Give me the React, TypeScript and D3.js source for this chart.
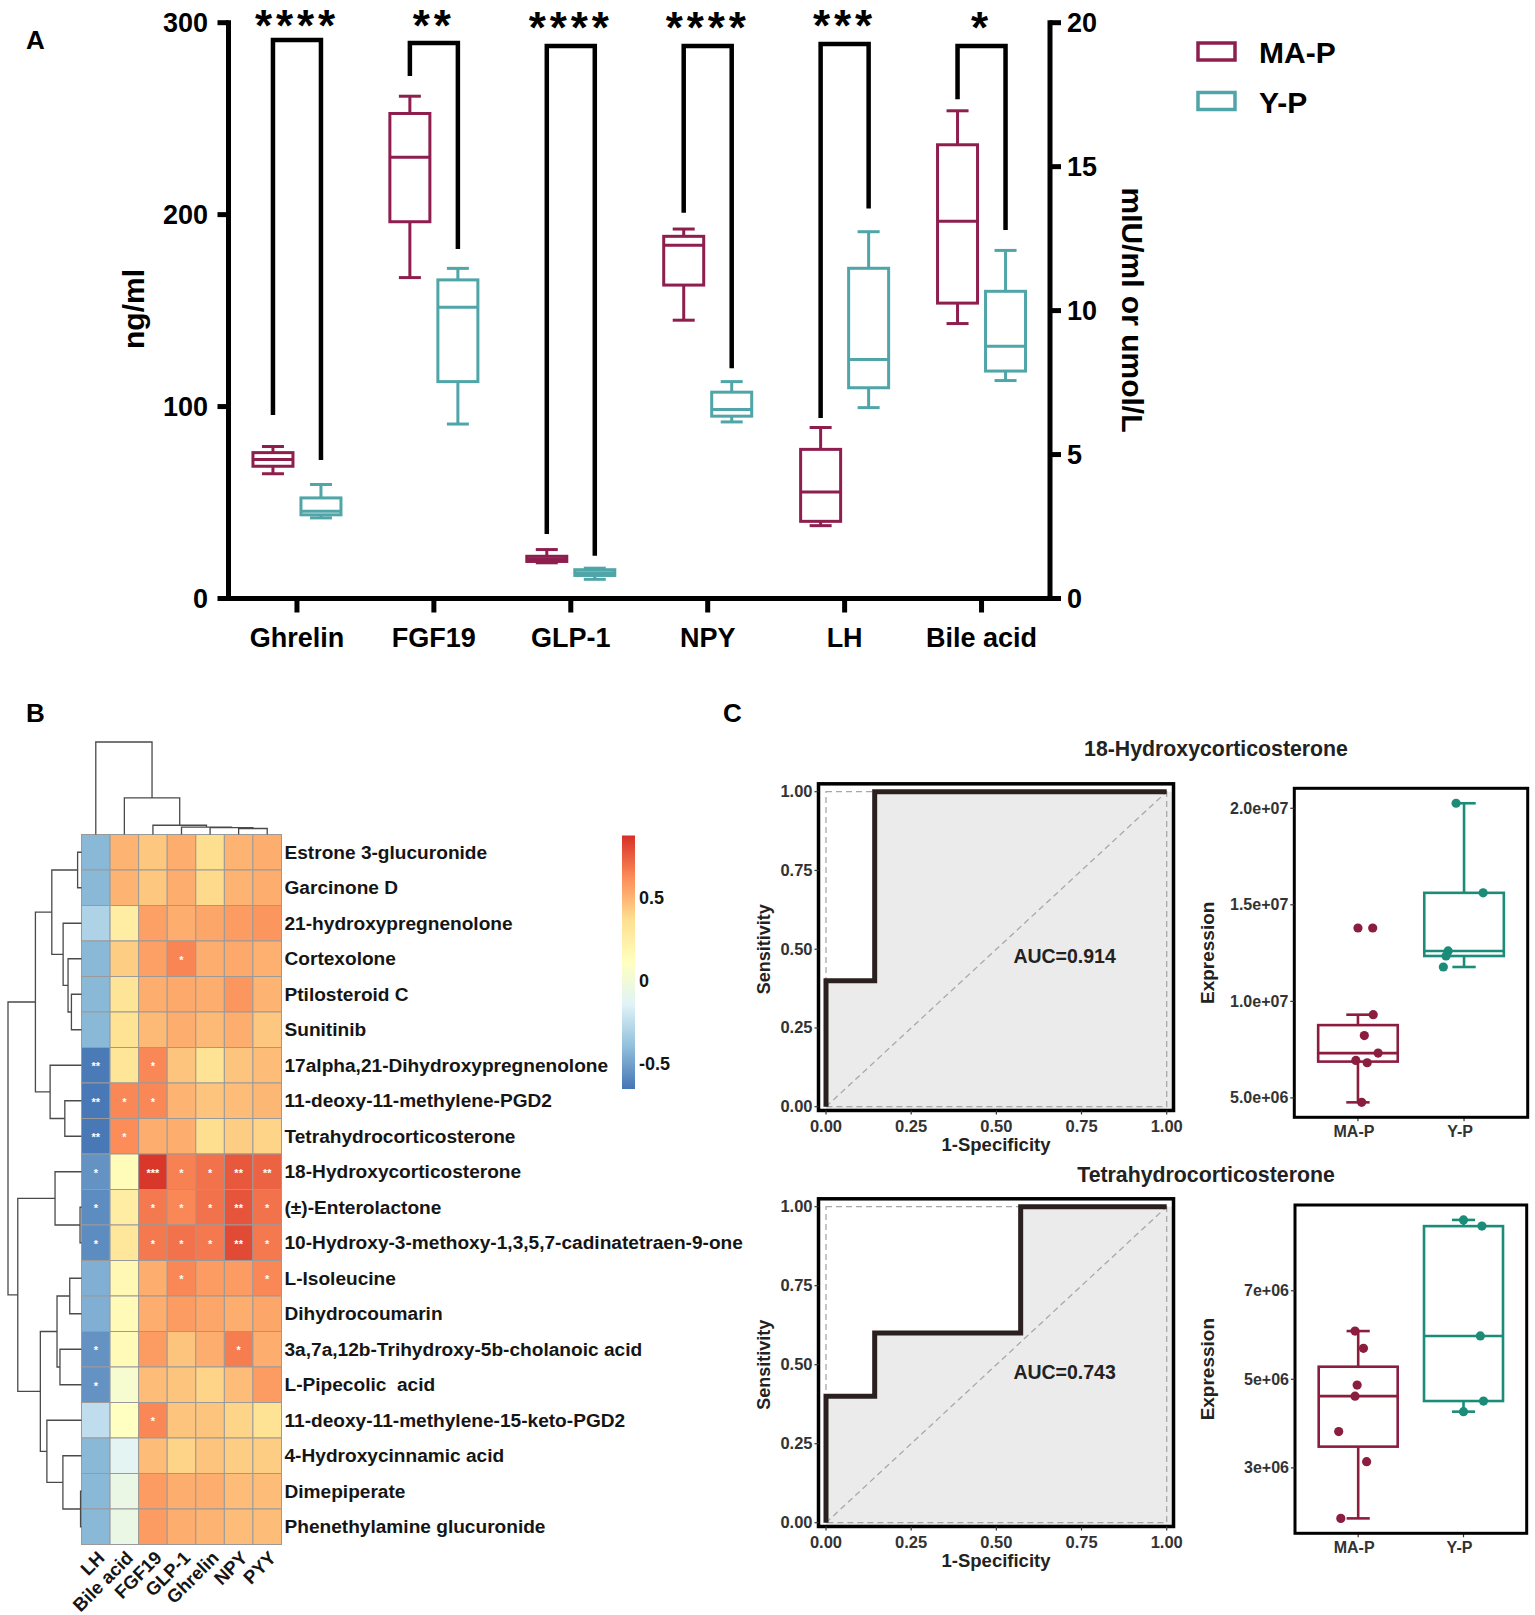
import React from "react";
import * as d3 from "d3";

const FONT = "'Liberation Sans', Arial, Helvetica, sans-serif";

// ---------------- Panel A data ----------------
const groupsA = ["Ghrelin", "FGF19", "GLP-1", "NPY", "LH", "Bile acid"];
const seriesA = ["MA-P", "Y-P"];
const groupAxisA = ["left", "left", "left", "left", "right", "right"];
// [whisker low, Q1, median, Q3, whisker high]
const statsMAP = [
  [65, 68.9, 72.4, 76, 79.2],
  [167.2, 196.3, 229.9, 252.7, 261.7],
  [18.6, 19.3, 20.7, 22, 25.5],
  [145, 163.3, 184, 188.7, 192.5],
  [2.53, 2.68, 3.7, 5.18, 5.94],
  [9.55, 10.26, 13.1, 15.76, 16.94],
];
const statsYP = [
  [42, 43.6, 45.5, 52.4, 59.4],
  [90.9, 113, 151.7, 166, 172],
  [10, 12, 13.4, 15, 15.8],
  [92, 95, 98.5, 107.5, 113],
  [6.63, 7.32, 8.3, 11.47, 12.74],
  [7.57, 7.9, 8.76, 10.67, 12.09],
];
const sigA = ["****", "**", "****", "****", "***", "*"];
const bracketTopA = [291, 289.4, 287.9, 287.9, 288.9, 287.9]; // left-axis units
const legEndMAP = [95.6, 272.2, 33.6, 201, 6.27, 17.34];
const legEndYP = [72.2, 182.1, 22.3, 120, 13.55, 12.8];
const leftTicksA = [0, 100, 200, 300];
const rightTicksA = [0, 5, 10, 15, 20];
const colorA: Record<string, string> = { "MA-P": "#8E1E4E", "Y-P": "#4FA5A7" };

// ---------------- Panel B data ----------------
const heatCols = ["LH", "Bile acid", "FGF19", "GLP-1", "Ghrelin", "NPY", "PYY"];
const heatRows = [
  "Estrone 3-glucuronide",
  "Garcinone D",
  "21-hydroxypregnenolone",
  "Cortexolone",
  "Ptilosteroid C",
  "Sunitinib",
  "17alpha,21-Dihydroxypregnenolone",
  "11-deoxy-11-methylene-PGD2",
  "Tetrahydrocorticosterone",
  "18-Hydroxycorticosterone",
  "(±)-Enterolactone",
  "10-Hydroxy-3-methoxy-1,3,5,7-cadinatetraen-9-one",
  "L-Isoleucine",
  "Dihydrocoumarin",
  "3a,7a,12b-Trihydroxy-5b-cholanoic acid",
  "L-Pipecolic  acid",
  "11-deoxy-11-methylene-15-keto-PGD2",
  "4-Hydroxycinnamic acid",
  "Dimepiperate",
  "Phenethylamine glucuronide",
];
const heatValues = [
  [-0.42, 0.5, 0.44, 0.52, 0.37, 0.5, 0.52],
  [-0.42, 0.5, 0.44, 0.52, 0.38, 0.5, 0.52],
  [-0.3, 0.26, 0.56, 0.52, 0.54, 0.57, 0.59],
  [-0.42, 0.42, 0.56, 0.64, 0.52, 0.53, 0.51],
  [-0.42, 0.33, 0.52, 0.53, 0.52, 0.59, 0.5],
  [-0.42, 0.34, 0.48, 0.52, 0.48, 0.52, 0.44],
  [-0.63, 0.32, 0.63, 0.45, 0.34, 0.45, 0.47],
  [-0.64, 0.63, 0.63, 0.5, 0.45, 0.47, 0.49],
  [-0.64, 0.62, 0.52, 0.52, 0.37, 0.42, 0.4],
  [-0.55, 0.14, 0.85, 0.65, 0.69, 0.76, 0.73],
  [-0.57, 0.26, 0.67, 0.63, 0.69, 0.77, 0.69],
  [-0.57, 0.31, 0.67, 0.69, 0.67, 0.8, 0.67],
  [-0.45, 0.17, 0.52, 0.63, 0.57, 0.57, 0.63],
  [-0.45, 0.15, 0.52, 0.57, 0.54, 0.52, 0.54],
  [-0.55, 0.15, 0.57, 0.45, 0.52, 0.66, 0.52],
  [-0.55, 0.04, 0.47, 0.45, 0.4, 0.47, 0.57],
  [-0.25, 0.1, 0.63, 0.45, 0.45, 0.4, 0.34],
  [-0.42, -0.12, 0.47, 0.4, 0.45, 0.42, 0.42],
  [-0.42, -0.06, 0.57, 0.52, 0.52, 0.47, 0.47],
  [-0.42, -0.06, 0.57, 0.52, 0.5, 0.47, 0.47],
];
const heatSig = [
  ["", "", "", "", "", "", ""],
  ["", "", "", "", "", "", ""],
  ["", "", "", "", "", "", ""],
  ["", "", "", "*", "", "", ""],
  ["", "", "", "", "", "", ""],
  ["", "", "", "", "", "", ""],
  ["**", "", "*", "", "", "", ""],
  ["**", "*", "*", "", "", "", ""],
  ["**", "*", "", "", "", "", ""],
  ["*", "", "***", "*", "*", "**", "**"],
  ["*", "", "*", "*", "*", "**", "*"],
  ["*", "", "*", "*", "*", "**", "*"],
  ["", "", "", "*", "", "", "*"],
  ["", "", "", "", "", "", ""],
  ["*", "", "", "", "", "*", ""],
  ["*", "", "", "", "", "", ""],
  ["", "", "*", "", "", "", ""],
  ["", "", "", "", "", "", ""],
  ["", "", "", "", "", "", ""],
  ["", "", "", "", "", "", ""],
];
// hclust-style merges: negative = leaf index (1-based), positive = earlier merge; third = height
const rowMerges = [
  [-1, -2, 0.053],
  [-5, -6, 0.137],
  [-4, 2, 0.183],
  [-3, 3, 0.25],
  [1, 4, 0.404],
  [-8, -9, 0.227],
  [-7, 6, 0.427],
  [5, 7, 0.627],
  [-11, -12, 0.02],
  [-10, 9, 0.36],
  [-13, -14, 0.16],
  [-15, -16, 0.293],
  [11, 12, 0.333],
  [-19, -20, 0.013],
  [-18, 14, 0.253],
  [-17, 15, 0.471],
  [13, 16, 0.56],
  [10, 17, 0.867],
  [8, 18, 1.0],
];
const colMerges = [
  [-6, -7, 0.065],
  [-5, 1, 0.075],
  [-4, 2, 0.08],
  [-3, 3, 0.1],
  [-2, 4, 0.395],
  [-1, 5, 1.0],
];
const heatPalette = ["#4575B4", "#91BFDB", "#E0F3F8", "#FFFFBF", "#FEE090", "#FC8D59", "#D73027"];
const heatRange = [-0.65, 0.87];
const colorbarTicks = [-0.5, 0, 0.5];

// ---------------- Panel C data ----------------
const rocTitles = ["18-Hydroxycorticosterone", "Tetrahydrocorticosterone"];
const roc1FPR = [0, 0, 0.1429, 0.1429, 1];
const roc1TPR = [0, 0.4, 0.4, 1, 1];
const roc2FPR = [0, 0, 0.1429, 0.1429, 0.5714, 0.5714, 1];
const roc2TPR = [0, 0.4, 0.4, 0.6, 0.6, 1, 1];
const aucLabels = ["AUC=0.914", "AUC=0.743"];
const rocTicks = [0, 0.25, 0.5, 0.75, 1];
const groupsC = ["MA-P", "Y-P"];
const colorC: Record<string, string> = { "MA-P": "#8B1D3F", "Y-P": "#1A8C78" };
const exprMAP1 = [13.8e6, 9.31e6, 8.23e6, 7.32e6, 6.94e6, 6.82e6, 4.77e6];
const jitMAP1 = [0.139, 0.144, 0.06, 0.19, -0.02, 0.087, 0.035];
const exprYP1 = [20.26e6, 15.62e6, 12.61e6, 12.35e6, 11.78e6];
const jitYP1 = [-0.075, 0.18, -0.15, -0.17, -0.195];
const exprMAP2 = [6.09e6, 5.7e6, 4.87e6, 4.62e6, 3.82e6, 3.14e6, 1.86e6];
const jitMAP2 = [-0.03, 0.05, -0.01, -0.03, -0.185, 0.08, -0.165];
const exprYP2 = [8.6e6, 8.46e6, 5.98e6, 4.51e6, 4.27e6];
const jitYP2 = [0.0, 0.175, 0.16, 0.19, 0.0];
const exprTicks1 = [5e6, 1e7, 1.5e7, 2e7];
const exprTickLabels1 = ["5.0e+06", "1.0e+07", "1.5e+07", "2.0e+07"];
const exprTicks2 = [3e6, 5e6, 7e6];
const exprTickLabels2 = ["3e+06", "5e+06", "7e+06"];

// ---------------- helpers ----------------
type Seg = { pa: number; ha: number; pb: number; hb: number; h: number };
function dendro(merges: number[][], leafPos: (i: number) => number): Seg[] {
  const pos: number[] = [];
  const hts: number[] = [];
  const segs: Seg[] = [];
  merges.forEach(([a, b, h], k) => {
    const pa = a < 0 ? leafPos(-a - 1) : pos[a - 1];
    const ha = a < 0 ? 0 : hts[a - 1];
    const pb = b < 0 ? leafPos(-b - 1) : pos[b - 1];
    const hb = b < 0 ? 0 : hts[b - 1];
    pos[k] = (pa + pb) / 2;
    hts[k] = h;
    segs.push({ pa, ha, pb, hb, h });
  });
  return segs;
}

function RocPanel(props: {
  fpr: number[];
  tpr: number[];
  auc: string;
  yTop: number;
  yBottom: number;
}) {
  const { fpr, tpr, auc, yTop, yBottom } = props;
  const x = d3.scaleLinear().domain([0, 1]).range([826, 1166.7]);
  const y = d3.scaleLinear().domain([0, 1]).range([yBottom, yTop]);
  const bx0 = x(-0.022), bx1 = x(1.02), by0 = y(-0.012), by1 = y(1.025);
  const line = d3.line<number>().x((_, i) => x(fpr[i])).y((_, i) => y(tpr[i]));
  const pts = fpr.map((f, i) => [x(f), y(tpr[i])] as [number, number]);
  const fillPts: [number, number][] = [[x(0), by0], ...pts, [bx1, y(1)], [bx1, by0]];
  return (
    <g>
      <rect x={bx0} y={by1} width={bx1 - bx0} height={by0 - by1} fill="white" />
      <polygon points={fillPts.map((p) => p.join(",")).join(" ")} fill="#EBEBEB" />
      <g stroke="#A8A8A8" strokeWidth={1.3} strokeDasharray="6,4" fill="none">
        <rect x={x(0)} y={y(1)} width={x(1) - x(0)} height={y(0) - y(1)} />
        <line x1={x(0)} y1={y(0)} x2={x(1)} y2={y(1)} />
      </g>
      <path d={line(fpr) || ""} fill="none" stroke="#2A2020" strokeWidth={5} />
      <rect x={bx0} y={by1} width={bx1 - bx0} height={by0 - by1} fill="none" stroke="#000" strokeWidth={3.5} />
      {rocTicks.map((t) => (
        <g key={"y" + t}>
          <line x1={bx0 - 4} x2={bx0} y1={y(t)} y2={y(t)} stroke="#333" strokeWidth={1.2} />
          <text x={bx0 - 6} y={y(t) + 5.5} textAnchor="end" fontSize={16.5} fontWeight="bold" fill="#333">
            {t.toFixed(2)}
          </text>
        </g>
      ))}
      {rocTicks.map((t) => (
        <g key={"x" + t}>
          <line x1={x(t)} x2={x(t)} y1={by0} y2={by0 + 4} stroke="#333" strokeWidth={1.2} />
          <text x={x(t)} y={by0 + 22} textAnchor="middle" fontSize={16.5} fontWeight="bold" fill="#333">
            {t.toFixed(2)}
          </text>
        </g>
      ))}
      <text
        transform={`translate(770,${(y(0) + y(1)) / 2}) rotate(-90)`}
        textAnchor="middle"
        fontSize={18}
        fontWeight="bold"
        fill="#222"
      >
        Sensitivity
      </text>
      <text x={996} y={by0 + 41} textAnchor="middle" fontSize={18.5} fontWeight="bold" fill="#222">
        1-Specificity
      </text>
      <text x={x(0.55)} y={y(0.455)} fontSize={19.5} fontWeight="bold" fill="#222">
        {auc}
      </text>
    </g>
  );
}

function ExprBox(props: {
  series: number[][];
  jitter: number[][];
  ticks: number[];
  tickLabels: string[];
  x0: number;
  x1: number;
  y0: number;
  y1: number;
}) {
  const { series, jitter, ticks, tickLabels, x0, x1, y0, y1 } = props;
  const all = series.flat();
  const mn = d3.min(all)!, mx = d3.max(all)!;
  const pad = (mx - mn) * 0.05;
  const y = d3.scaleLinear().domain([mn - pad, mx + pad]).range([y1, y0]);
  const x = d3.scaleLinear().domain([0.4, 2.6]).range([x0, x1]);
  const unit = x(1) - x(0);
  return (
    <g>
      {series.map((vals, gi) => {
        const g = groupsC[gi];
        const col = colorC[g];
        const s = [...vals].sort(d3.ascending);
        const q1 = d3.quantile(s, 0.25)!, med = d3.quantile(s, 0.5)!, q3 = d3.quantile(s, 0.75)!;
        const iqr = q3 - q1;
        const hi = d3.max(s.filter((v) => v <= q3 + 1.5 * iqr))!;
        const lo = d3.min(s.filter((v) => v >= q1 - 1.5 * iqr))!;
        const outl = s.filter((v) => v > hi || v < lo);
        const cx = x(gi + 1);
        const bw = 0.75 * unit;
        const cw = 0.22 * unit;
        return (
          <g key={g}>
            <g stroke={col} strokeWidth={2.6} fill="none">
              <line x1={cx} x2={cx} y1={y(hi)} y2={y(q3)} />
              <line x1={cx} x2={cx} y1={y(q1)} y2={y(lo)} />
              <line x1={cx - cw / 2} x2={cx + cw / 2} y1={y(hi)} y2={y(hi)} />
              <line x1={cx - cw / 2} x2={cx + cw / 2} y1={y(lo)} y2={y(lo)} />
              <rect x={cx - bw / 2} y={y(q3)} width={bw} height={y(q1) - y(q3)} fill="white" />
              <line x1={cx - bw / 2} x2={cx + bw / 2} y1={y(med)} y2={y(med)} />
            </g>
            {outl.map((v, k) => (
              <circle key={"o" + k} cx={cx} cy={y(v)} r={4.6} fill={col} />
            ))}
            {vals.map((v, k) => (
              <circle key={k} cx={cx + jitter[gi][k] * unit} cy={y(v)} r={4.6} fill={col} />
            ))}
            <line x1={cx} x2={cx} y1={y1} y2={y1 + 4} stroke="#333" strokeWidth={1.2} />
            <text x={cx - 4} y={y1 + 20} textAnchor="middle" fontSize={16} fontWeight="bold" fill="#333">
              {g}
            </text>
          </g>
        );
      })}
      <rect x={x0} y={y0} width={x1 - x0} height={y1 - y0} fill="none" stroke="#000" strokeWidth={3} />
      {ticks.map((t, i) => (
        <g key={t}>
          <line x1={x0 - 4} x2={x0} y1={y(t)} y2={y(t)} stroke="#333" strokeWidth={1.2} />
          <text x={x0 - 6} y={y(t) + 5.5} textAnchor="end" fontSize={16} fontWeight="bold" fill="#333">
            {tickLabels[i]}
          </text>
        </g>
      ))}
      <text
        transform={`translate(1214,${(y0 + y1) / 2}) rotate(-90)`}
        textAnchor="middle"
        fontSize={19}
        fontWeight="bold"
        fill="#222"
      >
        Expression
      </text>
    </g>
  );
}

export default function App() {
  // ---------- Panel A scales ----------
  const axL = 228.5, axR = 1050, axTop = 22.7, axBot = 598.5;
  const xA = d3.scaleBand<string>().domain(groupsA).range([axL, axR]);
  const subA = d3.scalePoint<string>().domain(seriesA).range([-24, 24]);
  const yL = d3.scaleLinear().domain([0, 300]).range([axBot, axTop]);
  const yR = d3.scaleLinear().domain([0, 20]).range([axBot, axTop]);
  const gc = (g: string) => xA(g)! + xA.bandwidth() / 2;

  // ---------- Panel B scales ----------
  const hx = d3.scaleBand<string>().domain(heatCols).range([81.5, 281.5]);
  const hy = d3.scaleBand<string>().domain(heatRows).range([834.5, 1544.5]);
  const heatColor = d3
    .scaleLinear<string>()
    .domain(heatPalette.map((_, i) => heatRange[0] + (i * (heatRange[1] - heatRange[0])) / (heatPalette.length - 1)))
    .range(heatPalette)
    .interpolate(d3.interpolateRgb);
  const xh = d3.scaleLinear().domain([0, 1]).range([81.5, 8]);
  const yh = d3.scaleLinear().domain([0, 1]).range([834.5, 742]);
  const rowSegs = dendro(rowMerges, (i) => hy(heatRows[i])! + hy.bandwidth() / 2);
  const colSegs = dendro(colMerges, (i) => hx(heatCols[i])! + hx.bandwidth() / 2);
  const cbY = d3.scaleLinear().domain(heatRange).range([1089, 835.5]);

  return (
    <svg
      width={1535}
      height={1615}
      viewBox="0 0 1535 1615"
      style={{ position: "absolute", left: 0, top: 0, background: "white" }}
      fontFamily={FONT}
    >
      <rect x={0} y={0} width={1535} height={1615} fill="white" />
      {/* ---------------- Panel A ---------------- */}
      <text x={26} y={49} fontSize={26} fontWeight="bold">A</text>
      {/* boxes */}
      {groupsA.map((g, gi) =>
        seriesA.map((s) => {
          const y = groupAxisA[gi] === "left" ? yL : yR;
          const st = s === "MA-P" ? statsMAP[gi] : statsYP[gi];
          const [lo, q1, med, q3, hi] = st;
          const cx = gc(g) + subA(s)!;
          return (
            <g key={g + s} stroke={colorA[s]} strokeWidth={3} fill="none">
              <line x1={cx} x2={cx} y1={y(hi)} y2={y(q3)} />
              <line x1={cx} x2={cx} y1={y(q1)} y2={y(lo)} />
              <line x1={cx - 11} x2={cx + 11} y1={y(hi)} y2={y(hi)} />
              <line x1={cx - 11} x2={cx + 11} y1={y(lo)} y2={y(lo)} />
              <rect x={cx - 20} y={y(q3)} width={40} height={y(q1) - y(q3)} fill="white" />
              <line x1={cx - 20} x2={cx + 20} y1={y(med)} y2={y(med)} />
            </g>
          );
        })
      )}
      {/* brackets & stars */}
      {groupsA.map((g, gi) => {
        const y = groupAxisA[gi] === "left" ? yL : yR;
        const xl = gc(g) + subA("MA-P")!;
        const xr = gc(g) + subA("Y-P")!;
        const yt = yL(bracketTopA[gi]);
        const n = sigA[gi].length;
        const starY = Math.max(yt - 3, 41);
        return (
          <g key={"br" + g}>
            <path
              d={`M${xl},${y(legEndMAP[gi])} V${yt} H${xr} V${y(legEndYP[gi])}`}
              fill="none"
              stroke="#000"
              strokeWidth={4.5}
            />
            {sigA[gi].split("").map((c, k) => (
              <text key={k} x={gc(g) - 2 + (k - (n - 1) / 2) * 21} y={starY} textAnchor="middle" fontSize={44} fontWeight="bold">
                {c}
              </text>
            ))}
          </g>
        );
      })}
      {/* axes */}
      <g stroke="#000" strokeWidth={5} fill="none" strokeLinecap="square">
        <line x1={axL} x2={axL} y1={axTop} y2={axBot} />
        <line x1={axR} x2={axR} y1={axTop} y2={axBot} />
        <line x1={axL} x2={axR} y1={axBot} y2={axBot} />
      </g>
      {leftTicksA.map((t) => (
        <g key={"lt" + t}>
          <line x1={axL - 11} x2={axL} y1={yL(t)} y2={yL(t)} stroke="#000" strokeWidth={5} />
          <text x={208} y={yL(t) + 9.5} textAnchor="end" fontSize={27} fontWeight="bold">{t}</text>
        </g>
      ))}
      {rightTicksA.map((t) => (
        <g key={"rt" + t}>
          <line x1={axR} x2={axR + 11} y1={yR(t)} y2={yR(t)} stroke="#000" strokeWidth={5} />
          <text x={1067} y={yR(t) + 9.5} textAnchor="start" fontSize={27} fontWeight="bold">{t}</text>
        </g>
      ))}
      {groupsA.map((g) => (
        <g key={"xt" + g}>
          <line x1={gc(g)} x2={gc(g)} y1={axBot} y2={axBot + 14} stroke="#000" strokeWidth={5} />
          <text x={gc(g)} y={646.5} textAnchor="middle" fontSize={27} fontWeight="bold">{g}</text>
        </g>
      ))}
      <text transform={`translate(144,309) rotate(-90)`} textAnchor="middle" fontSize={30} fontWeight="bold">ng/ml</text>
      <text transform={`translate(1122,310) rotate(90)`} textAnchor="middle" fontSize={30} fontWeight="bold">mIU/ml or umol/L</text>
      {/* legend */}
      {seriesA.map((s, i) => (
        <g key={"lg" + s}>
          <rect x={1198} y={43 + i * 49.5} width={37} height={17} fill="white" stroke={colorA[s]} strokeWidth={3.5} />
          <text x={1259} y={63 + i * 49.5} fontSize={30} fontWeight="bold">{s}</text>
        </g>
      ))}

      {/* ---------------- Panel B ---------------- */}
      <text x={26} y={722} fontSize={26} fontWeight="bold">B</text>
      {heatRows.map((r, ri) =>
        heatCols.map((c, ci) => (
          <rect
            key={r + c}
            x={hx(c)}
            y={hy(r)}
            width={hx.bandwidth()}
            height={hy.bandwidth()}
            fill={heatColor(heatValues[ri][ci])}
            stroke="#9A9A9A"
            strokeWidth={1}
          />
        ))
      )}
      {heatRows.map((r, ri) =>
        heatCols.map((c, ci) =>
          heatSig[ri][ci] ? (
            <text
              key={"s" + r + c}
              x={hx(c)! + hx.bandwidth() / 2}
              y={hy(r)! + hy.bandwidth() / 2 + 5}
              textAnchor="middle"
              fontSize={11}
              fontWeight="bold"
              fill="#FFFFFF"
            >
              {heatSig[ri][ci]}
            </text>
          ) : null
        )
      )}
      {heatRows.map((r) => (
        <text
          key={"rl" + r}
          x={284.5}
          y={hy(r)! + hy.bandwidth() / 2 + 6.5}
          fontSize={19.1}
          fontWeight="bold"
          fill="#151515"
          style={{ whiteSpace: "pre" }}
        >
          {r}
        </text>
      ))}
      {heatCols.map((c) => (
        <text
          key={"cl" + c}
          transform={`translate(${hx(c)! + hx.bandwidth() / 2 + 10},1559) rotate(-45)`}
          textAnchor="end"
          fontSize={18.5}
          fontWeight="bold"
          fill="#151515"
        >
          {c}
        </text>
      ))}
      <g stroke="#4A4A4A" strokeWidth={1.3} fill="none">
        {rowSegs.map((s, i) => (
          <path key={"rd" + i} d={`M${xh(s.ha)},${s.pa} H${xh(s.h)} V${s.pb} H${xh(s.hb)}`} />
        ))}
        {colSegs.map((s, i) => (
          <path key={"cd" + i} d={`M${s.pa},${yh(s.ha)} V${yh(s.h)} H${s.pb} V${yh(s.hb)}`} />
        ))}
      </g>
      <defs>
        <linearGradient id="cbar" x1="0" y1="1" x2="0" y2="0">
          {heatPalette.map((c, i) => (
            <stop key={i} offset={i / (heatPalette.length - 1)} stopColor={c} />
          ))}
        </linearGradient>
      </defs>
      <rect x={622} y={cbY(heatRange[1])} width={13} height={cbY(heatRange[0]) - cbY(heatRange[1])} fill="url(#cbar)" />
      {colorbarTicks.map((t) => (
        <text key={"cb" + t} x={639} y={cbY(t) + 6.5} fontSize={18} fontWeight="bold" fill="#151515">
          {t}
        </text>
      ))}

      {/* ---------------- Panel C ---------------- */}
      <text x={723} y={722} fontSize={26} fontWeight="bold">C</text>
      <text x={1216} y={756} textAnchor="middle" fontSize={21.3} fontWeight="bold" fill="#222">{rocTitles[0]}</text>
      <text x={1206} y={1182} textAnchor="middle" fontSize={21.3} fontWeight="bold" fill="#222">{rocTitles[1]}</text>
      <RocPanel fpr={roc1FPR} tpr={roc1TPR} auc={aucLabels[0]} yTop={791.7} yBottom={1106.7} />
      <RocPanel fpr={roc2FPR} tpr={roc2TPR} auc={aucLabels[1]} yTop={1206.7} yBottom={1522.7} />
      <ExprBox
        series={[exprMAP1, exprYP1]}
        jitter={[jitMAP1, jitYP1]}
        ticks={exprTicks1}
        tickLabels={exprTickLabels1}
        x0={1294.3}
        x1={1527.7}
        y0={788.3}
        y1={1117.3}
      />
      <ExprBox
        series={[exprMAP2, exprYP2]}
        jitter={[jitMAP2, jitYP2]}
        ticks={exprTicks2}
        tickLabels={exprTickLabels2}
        x0={1295}
        x1={1526.7}
        y0={1205}
        y1={1533.3}
      />
    </svg>
  );
}
